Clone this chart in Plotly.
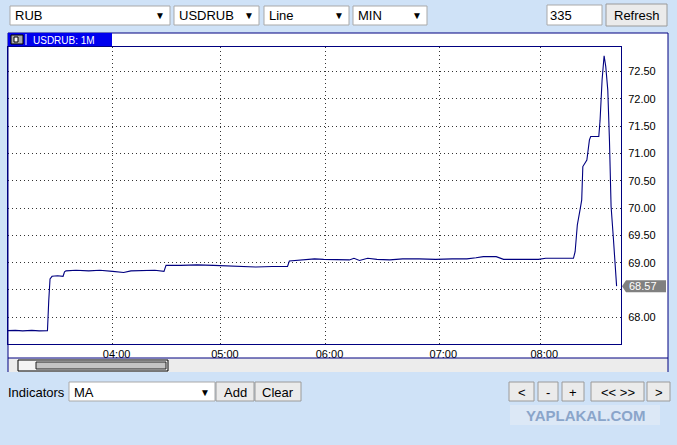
import plotly.graph_objects as go

# ---------------- data ----------------
bar_index = [0, 4, 8, 13, 17, 21.5, 22.2, 22.9, 24, 27, 30, 30.8, 31.6, 37, 44, 50, 57, 63, 67, 75,
             80, 85, 86.1, 94, 103, 112, 119, 126, 135, 144, 152.3, 153.3, 159, 167, 172, 180, 186,
             188.5, 191.5, 196, 201, 208, 215, 224, 233, 242, 250, 255, 259, 266, 270, 280, 289,
             293, 302, 308.1, 309.0, 309.9, 310.2, 311.7, 312.6, 313.2, 314.4, 315.4, 316.8, 317.5,
             321.9, 322.6, 323.7, 324.8, 325.7, 326.8, 327.7, 328.1, 328.6, 329.9, 330.7, 331.6]
price = [67.755, 67.76, 67.75, 67.76, 67.75, 67.755, 68.30, 68.70, 68.75, 68.76, 68.75, 68.83, 68.85,
         68.86, 68.85, 68.86, 68.84, 68.82, 68.85, 68.85, 68.86, 68.84, 68.95, 68.95, 68.96, 68.95,
         68.94, 68.93, 68.92, 68.93, 68.93, 69.03, 69.05, 69.07, 69.06, 69.06, 69.05, 69.08, 69.04,
         69.08, 69.06, 69.05, 69.07, 69.07, 69.06, 69.07, 69.07, 69.09, 69.11, 69.11, 69.06, 69.06,
         69.06, 69.08, 69.08, 69.08, 69.20, 69.54, 69.69, 69.97, 70.15, 70.76, 70.82, 70.88, 71.25,
         71.31, 71.31, 71.61, 72.35, 72.79, 72.59, 72.16, 71.25, 70.58, 70.03, 69.42, 68.93, 68.57]

time_tick_bars = [57, 116, 173, 235, 290]
time_tick_labels = ["04:00", "05:00", "06:00", "07:00", "08:00"]
price_ticks = [68.0, 68.5, 69.0, 69.5, 70.0, 70.5, 71.0, 71.5, 72.0, 72.5]
last_price = 68.57
n_bars = 335
symbol_title = "USDRUB: 1M"

# ---------------- geometry helpers ----------------
W, H = 677, 445
L, R, T, B = 8, 56, 47, 101
PW, PH = W - L - R, H - T - B
BOT = H - B
Y_RANGE = [67.51, 72.95]

def px(x):
    return (x - L) / PW

def py(y):
    return (BOT - y) / PH

NAVY = "#000080"
BG = "#cfe2f7"
FONT = "Liberation Sans, Arial, sans-serif"

shapes = []
annotations = []

def rect(x0, y0, x1, y1, fill, line="rgba(0,0,0,0)", lw=1, layer="above"):
    shapes.append(dict(type="rect", xref="paper", yref="paper",
                       x0=px(x0), x1=px(x1), y0=py(y1), y1=py(y0),
                       fillcolor=fill, line=dict(color=line, width=lw), layer=layer))

def hline(x0, x1, y, color, lw=1):
    shapes.append(dict(type="line", xref="paper", yref="paper", x0=px(x0), x1=px(x1),
                       y0=py(y), y1=py(y), line=dict(color=color, width=lw), layer="above"))

def vline(x, y0, y1, color, lw=1):
    shapes.append(dict(type="line", xref="paper", yref="paper", x0=px(x), x1=px(x),
                       y0=py(y0), y1=py(y1), line=dict(color=color, width=lw), layer="above"))

def text(x, y, s, size=13, color="#000", anchor="left", family=FONT):
    annotations.append(dict(xref="paper", yref="paper", x=px(x), y=py(y), text=s,
                            showarrow=False, xanchor=anchor, yanchor="middle",
                            font=dict(size=size, color=color, family=family),
                            borderpad=0))

# ---------------- chart panel ----------------
rect(8, 33, 668, 372, "#ffffff", layer="below")
rect(8, 358, 668, 372, "#ececec", layer="below")
hline(8, 668, 358, NAVY)
hline(8, 668, 33, NAVY)
vline(8, 33, 372, NAVY)
vline(668, 33, 372, NAVY)
# scrollbar
rect(18, 360, 168, 371, "#f4f4f4", "#000000", 1)
rect(36, 362, 166, 369, "#c4c4c4", "#222222", 1)
# title tab
rect(8, 33, 112, 46, "#0000ee")
rect(11, 35, 23, 44, "#a8a8a8", "#000000", 1)
rect(14, 37, 18, 42, "#ffffff", "#000000", 1)
vline(26, 34, 45, "#ffffff")
text(32, 40, symbol_title, size=10, color="#ffffff")

# ---------------- top controls ----------------
for label, x0, x1 in [("RUB", 10, 170), ("USDRUB", 174, 259), ("Line", 264, 349), ("MIN", 353, 427)]:
    rect(x0, 6, x1, 25, "#ffffff", "#a9a9a9", 1)
    text(x0 + 4, 15.5, label)
    text(x1 - 10, 15.5, "▼", size=10, anchor="center")
rect(547, 5, 602, 25, "#ffffff", "#a9a9a9", 1)
text(549, 15.5, "335")
rect(606, 4, 667, 26, "#ebebeb", "#9a9a9a", 1)
text(636.5, 15.5, "Refresh", anchor="center")

# ---------------- bottom controls ----------------
text(7, 392, "Indicators")
rect(69, 382, 215, 401, "#ffffff", "#a9a9a9", 1)
text(73, 392, "MA")
text(205, 392, "▼", size=10, anchor="center")
for label, x0, x1 in [("Add", 216, 254), ("Clear", 255, 301), ("<", 509, 534), ("-", 538, 558),
                      ("+", 562, 584), ("<< >>", 591, 644), (">", 647, 670)]:
    rect(x0, 382, x1, 401, "#ebebeb", "#9a9a9a", 1)
    text((x0 + x1) / 2, 392, label, anchor="center")

# watermark
rect(510, 405, 660, 425, "#dce8f6")
text(585, 415.5, "<b>YAPLAKAL.COM</b>", size=15, color="#8aa5ca", anchor="center")

# ---------------- last price marker ----------------
h = 6 / (PH / (Y_RANGE[1] - Y_RANGE[0]))
shapes.append(dict(type="path", xref="paper", yref="y",
                   path=f"M {px(622)},{last_price} L {px(626)},{last_price + h} L {px(666)},{last_price + h} "
                        f"L {px(666)},{last_price - h} L {px(626)},{last_price - h} Z",
                   fillcolor="#808080", line=dict(width=0), layer="above"))
annotations.append(dict(xref="paper", yref="y", x=px(627), y=last_price, text=f"{last_price:.2f}",
                        showarrow=False, xanchor="left", yanchor="middle",
                        font=dict(size=11, color="#ffffff", family=FONT)))

# tick label hidden behind the last-price marker (as in the reference)
price_tick_text = ["" if abs(v - last_price) < 0.1 else f"{v:.2f}" for v in price_ticks]

# ---------------- figure ----------------
fig = go.Figure(go.Scatter(x=bar_index, y=price, mode="lines",
                           line=dict(color=NAVY, width=1.1), hoverinfo="skip"))

fig.update_layout(
    width=W, height=H,
    margin=dict(l=L, r=R, t=T, b=B, pad=0),
    paper_bgcolor=BG, plot_bgcolor="#ffffff",
    showlegend=False,
    shapes=shapes, annotations=annotations,
    font=dict(family=FONT, size=11, color="#000"),
)
fig.update_xaxes(range=[0, n_bars - 1], tickvals=time_tick_bars, ticktext=time_tick_labels,
                 showgrid=True, gridcolor="#333333", griddash="1px,3px", gridwidth=1,
                 showline=True, mirror=True, linecolor=NAVY, linewidth=1, zeroline=False,
                 ticks="", ticklabelshift=4, tickfont=dict(size=11, family=FONT), automargin=False)
fig.update_yaxes(range=Y_RANGE, side="right", tickvals=price_ticks, ticktext=price_tick_text,
                 showgrid=True, gridcolor="#333333", griddash="1px,3px", gridwidth=1,
                 showline=True, mirror=True, linecolor=NAVY, linewidth=1, zeroline=False,
                 ticks="", ticklabelstandoff=4, tickfont=dict(size=11, family=FONT), automargin=False)

fig.write_html("out.html", config={"displayModeBar": False},
               post_script="document.body.style.margin='0';document.body.style.background='%s';" % BG)
